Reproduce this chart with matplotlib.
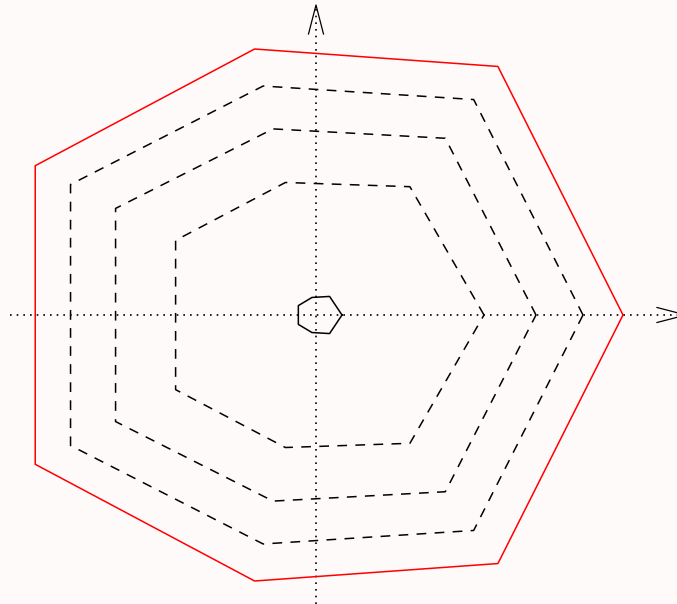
import numpy as np
import matplotlib
matplotlib.use("Agg")
import matplotlib.pyplot as plt

plt.rcParams["lines.scale_dashes"] = False

# Spoke directions (degrees) and the value of each series on every spoke
spoke_angles = [0, 53.8, 103, 152, 208, 257, 306.2]
outer_red = [3.07, 3.08, 2.73, 3.18, 3.18, 2.73, 3.08]
level_3 = [2.67, 2.67, 2.35, 2.78, 2.78, 2.35, 2.67]
level_2 = [2.20, 2.19, 1.91, 2.27, 2.27, 1.91, 2.19]
level_1 = [1.68, 1.59, 1.36, 1.59, 1.59, 1.36, 1.59]
core = [0.26, 0.23, 0.18, 0.20, 0.20, 0.18, 0.23]

bg = "#fffafa"
fig = plt.figure(figsize=(6.77, 6.04), dpi=100, facecolor=bg)
ax = fig.add_axes([0, 0, 1, 1])
ax.set_facecolor(bg)
ax.set_xlim(-3.16, 3.61)
ax.set_ylim(-2.89, 3.15)
ax.set_aspect("equal")
ax.axis("off")

theta = np.deg2rad(spoke_angles)


def closed_polygon(values):
    r = np.asarray(values + values[:1])
    t = np.concatenate([theta, theta[:1]])
    return r * np.cos(t), r * np.sin(t)


# Dotted coordinate axes with open chevron heads
dot = dict(color="black", lw=1.2, linestyle=(0, (1.2, 3.6)), dash_capstyle="butt")
ax.plot([-3.06, 3.70], [0, 0], **dot)
ax.plot([0, 0], [-2.89, 3.10], **dot)
ax.plot([-0.075, 0, 0.075], [2.81, 3.10, 2.81], color="black", lw=0.9)
ax.plot([3.41, 3.70, 3.41], [0.075, 0, -0.075], color="black", lw=0.9)

# Polygons
for vals in (level_1, level_2, level_3):
    x, y = closed_polygon(vals)
    ax.plot(x, y, color="black", lw=1.1, linestyle=(0, (7, 6)))

x, y = closed_polygon(outer_red)
ax.plot(x, y, color="red", lw=1.1)

x, y = closed_polygon(core)
ax.plot(x, y, color="black", lw=1.1)

fig.savefig("out.png", dpi=100, facecolor=bg)
